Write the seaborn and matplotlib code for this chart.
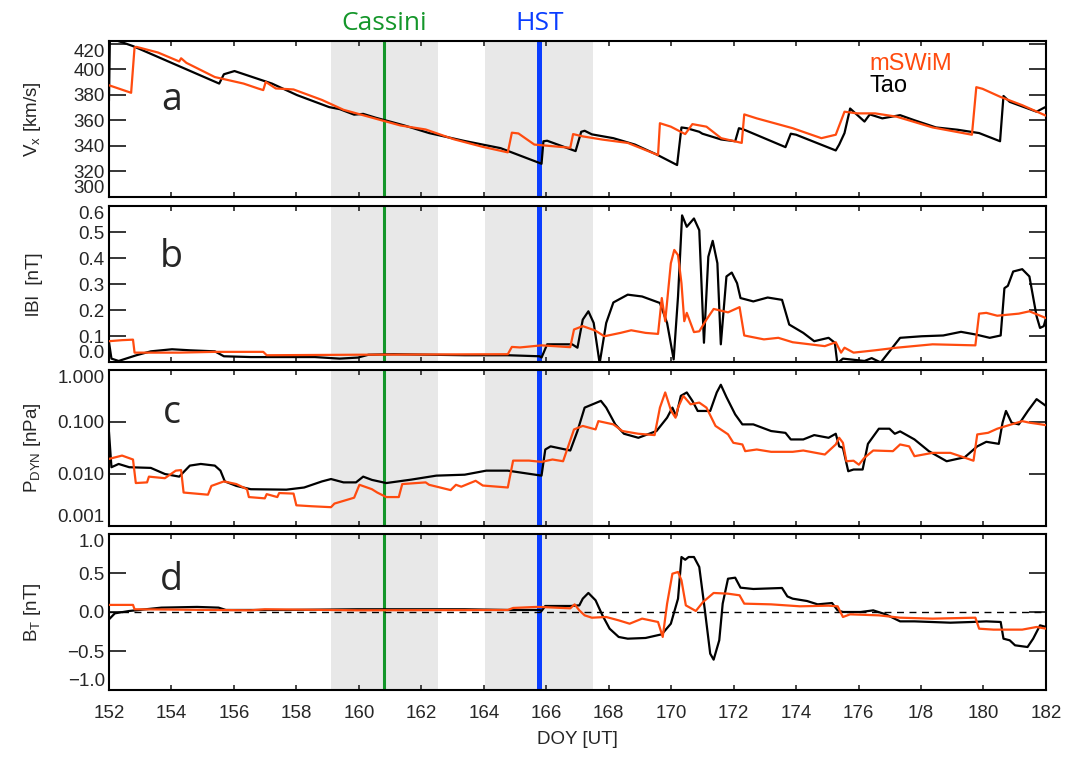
import numpy as np
import pandas as pd
import seaborn as sns
import matplotlib.pyplot as plt

# --- event markers / shaded intervals (DOY) ---
cassini_doy = 160.81
hst_doy = 165.78
shade_windows = [(159.1, 162.53), (164.04, 167.5)]

# --- panel a : Vx [km/s] ---
tao_vx_day = [152.0, 152.03, 152.42, 152.77, 155.53, 155.68, 156.02, 157.22, 158.02, 159.05, 159.39,
              159.85, 160.14, 160.54, 161.45, 162.25, 163.39, 164.54, 165.85, 165.91, 166.03, 166.94,
              167.12, 167.23, 167.46, 168.15, 168.84, 169.53, 170.19, 170.33, 170.5, 170.9, 171.0,
              171.6, 172.05, 172.17, 172.34, 173.66, 173.83, 174.0, 175.27, 175.38, 175.55, 175.73,
              176.19, 176.36, 176.76, 177.33, 177.79, 178.48, 179.17, 179.86, 180.53, 180.64, 180.84,
              181.7, 181.93, 182.0]
tao_vx = [375, 424, 421, 418, 388.7, 396, 398.5, 388.7, 379.7, 370.3, 368.7,
          364.4, 365, 362, 356, 350, 343.8, 338.2, 326, 343.6, 344, 335.9,
          351, 351.8, 349, 346, 341, 333.3, 325, 354.4, 353.8, 351, 349.5,
          345, 343.6, 353.8, 352.6, 339, 349.5, 348.7, 336.4, 341, 350, 369.2,
          359, 364.6, 361.5, 364, 360, 354.4, 352.6, 350, 343.6, 379, 374.4,
          366.7, 369.7, 370.5]
msw_vx_day = [152.0, 152.71, 152.82, 152.88, 153.57, 154.25, 154.31, 154.48, 155.39, 156.31, 156.77,
              156.94, 157.02, 157.34, 157.91, 158.82, 159.51, 160.65, 161.34, 162.14, 163.05, 163.97,
              164.77, 164.9, 165.11, 165.62, 166.77, 166.86, 167.17, 167.8, 168.61, 169.58, 169.64,
              169.99, 170.45, 170.68, 171.13, 171.6, 172.26, 172.34, 172.74, 173.89, 174.81, 175.27,
              175.55, 175.96, 176.53, 177.22, 178.37, 179.63, 179.77, 179.97, 180.55, 181.24, 182.0]
msw_vx = [387.4, 381.5, 417, 417.4, 413, 406, 408.5, 404.9, 393.8, 388.7, 384.9,
          383.6, 390, 384.9, 384.1, 375.9, 368.2, 360.5, 355.9, 352.8, 345.1, 339.2,
          334.9, 350.3, 349.7, 341, 338.5, 349.2, 347.4, 344.9, 342.3, 332.8, 357.7,
          355, 349.2, 357, 355, 346, 342.3, 364.6, 361.5, 353.8, 346, 348.7,
          366.7, 365.4, 365.4, 362.8, 354.4, 348.7, 385.9, 384.6, 378.2, 371.8, 363.6]

# --- panel b : |B| [nT] ---
tao_b_day = [152.0, 152.08, 152.31, 152.88, 153.34, 154.02, 154.59, 155.39, 155.68, 156.54, 158.59,
             159.39, 159.97, 160.31, 161.11, 163.39, 164.77, 165.79, 165.85, 166.03, 166.83, 167.0,
             167.17, 167.35, 167.52, 167.71, 167.92, 168.15, 168.61, 169.07, 169.64, 169.87, 170.08,
             170.22, 170.35, 170.5, 170.73, 170.9, 171.05, 171.19, 171.33, 171.48, 171.59, 171.77,
             171.94, 172.11, 172.22, 172.63, 173.09, 173.55, 173.78, 174.23, 174.58, 175.04, 175.24,
             175.32, 175.5, 176.19, 176.42, 176.71, 177.33, 178.02, 178.71, 179.28, 179.74, 180.2,
             180.55, 180.67, 180.78, 180.95, 181.24, 181.47, 181.7, 181.81, 181.93, 182.0]
tao_b = [0.077, 0.013, 0.004, 0.026, 0.041, 0.049, 0.045, 0.041, 0.022, 0.019, 0.019,
         0.013, 0.017, 0.028, 0.030, 0.026, 0.026, 0.022, 0.017, 0.068, 0.068, 0.055,
         0.163, 0.195, 0.15, -0.005, 0.15, 0.229, 0.259, 0.252, 0.227, 0.15, 0.01,
         0.252, 0.564, 0.52, 0.552, 0.507, 0.074, 0.405, 0.466, 0.38, 0.068, 0.329,
         0.344, 0.303, 0.246, 0.233, 0.248, 0.239, 0.144, 0.112, 0.08, 0.093, 0.074,
         -0.005, 0.013, 0.004, 0.015, -0.002, 0.093, 0.099, 0.102, 0.116, 0.106, 0.093,
         0.102, 0.284, 0.293, 0.348, 0.357, 0.329, 0.176, 0.131, 0.138, 0.169]
msw_b_day = [152.0, 152.42, 152.77, 152.82, 154.25, 155.39, 156.94, 157.05, 159.97, 164.77, 164.9,
             165.16, 165.85, 166.77, 166.89, 167.17, 167.57, 167.86, 168.38, 168.72, 169.18, 169.58,
             169.7, 169.81, 169.99, 170.1, 170.22, 170.33, 170.42, 170.5, 170.73, 170.9, 171.13,
             171.36, 171.82, 172.19, 172.34, 172.97, 173.43, 173.89, 174.92, 175.27, 175.44, 175.55,
             175.84, 176.53, 177.22, 178.37, 179.74, 179.86, 180.09, 180.44, 181.13, 181.47, 182.0]
msw_b = [0.08, 0.084, 0.086, 0.036, 0.036, 0.039, 0.039, 0.026, 0.028, 0.030, 0.058,
         0.056, 0.064, 0.057, 0.125, 0.138, 0.121, 0.099, 0.112, 0.122, 0.112, 0.108,
         0.246, 0.157, 0.38, 0.431, 0.411, 0.303, 0.157, 0.189, 0.115, 0.118, 0.163,
         0.204, 0.191, 0.211, 0.102, 0.087, 0.093, 0.076, 0.061, 0.076, 0.036, 0.055,
         0.036, 0.045, 0.055, 0.068, 0.064, 0.186, 0.189, 0.178, 0.186, 0.195, 0.169]

# --- panel c : Pdyn [nPa] ---
tao_p_day = [152.0, 152.08, 152.31, 152.65, 153.34, 153.79, 154.25, 154.59, 154.94, 155.39, 155.57,
             155.71, 156.08, 156.54, 157.68, 158.25, 158.82, 159.11, 159.51, 159.91, 160.14, 160.42,
             160.88, 161.68, 162.48, 163.39, 164.08, 164.77, 165.85, 165.97, 166.14, 166.77, 167.0,
             167.23, 167.75, 167.92, 168.21, 168.49, 168.95, 169.53, 169.87, 170.04, 170.16, 170.31,
             170.5, 170.68, 170.85, 171.25, 171.46, 171.59, 171.77, 172.05, 172.28, 172.63, 173.2,
             173.66, 173.83, 174.23, 174.58, 175.04, 175.27, 175.38, 175.5, 175.67, 175.84, 176.13,
             176.3, 176.65, 176.99, 177.16, 177.33, 177.79, 178.25, 178.82, 179.4, 179.8, 180.09,
             180.49, 180.61, 180.72, 180.9, 181.13, 181.42, 181.7, 182.0]
tao_p = [0.065, 0.0135, 0.0156, 0.0135, 0.0131, 0.010, 0.0089, 0.0145, 0.0156, 0.0145, 0.0116,
         0.0072, 0.0059, 0.0051, 0.0050, 0.0055, 0.0072, 0.008, 0.0069, 0.0069, 0.0089, 0.0077,
         0.0067, 0.0078, 0.0093, 0.0097, 0.0116, 0.0116, 0.0093, 0.0296, 0.034, 0.0283, 0.067,
         0.189, 0.255, 0.189, 0.09, 0.0594, 0.0497, 0.067, 0.121, 0.189, 0.13, 0.318,
         0.37, 0.255, 0.163, 0.163, 0.37, 0.52, 0.302, 0.14, 0.09, 0.09, 0.067,
         0.0618, 0.0462, 0.0462, 0.056, 0.0497, 0.0594, 0.034, 0.0318, 0.0113, 0.0122, 0.0122,
         0.038, 0.0743, 0.0743, 0.0594, 0.066, 0.0462, 0.0275, 0.0176, 0.021, 0.034, 0.0416,
         0.038, 0.097, 0.163, 0.097, 0.09, 0.163, 0.275, 0.204]
msw_p_day = [152.0, 152.42, 152.77, 152.86, 153.22, 153.28, 153.79, 154.14, 154.31, 154.39, 155.17,
             155.28, 155.68, 156.08, 156.42, 156.48, 156.99, 157.05, 157.39, 157.45, 157.91, 158.0,
             158.48, 159.11, 159.22, 159.85, 160.02, 160.42, 160.59, 160.88, 161.28, 161.39, 162.14,
             162.25, 162.94, 163.11, 163.28, 163.74, 163.97, 164.77, 164.94, 165.45, 165.85, 166.2,
             166.54, 166.89, 167.17, 167.58, 167.67, 168.15, 168.44, 168.95, 169.47, 169.64, 169.81,
             170.0, 170.14, 170.22, 170.39, 170.62, 170.9, 171.13, 171.42, 171.82, 171.99, 172.28,
             172.37, 172.74, 173.2, 173.89, 174.23, 174.92, 175.27, 175.38, 175.5, 175.61, 175.84,
             176.01, 176.19, 176.47, 177.1, 177.33, 177.62, 177.79, 178.37, 178.94, 179.4, 179.68,
             179.8, 180.15, 180.44, 181.24, 181.47, 181.7, 182.0]
msw_p = [0.0195, 0.0226, 0.019, 0.0067, 0.0069, 0.0089, 0.0083, 0.0116, 0.0119, 0.0044, 0.0040,
         0.0059, 0.0072, 0.0064, 0.0051, 0.0036, 0.0034, 0.0041, 0.0036, 0.0043, 0.0042, 0.0025,
         0.0024, 0.0023, 0.0027, 0.0035, 0.0062, 0.0051, 0.0044, 0.0036, 0.0036, 0.0064, 0.0069,
         0.0062, 0.0049, 0.0062, 0.0057, 0.0074, 0.0060, 0.0055, 0.0181, 0.0181, 0.0171, 0.019,
         0.0176, 0.072, 0.084, 0.072, 0.104, 0.09, 0.067, 0.0594, 0.056, 0.189, 0.37,
         0.163, 0.121, 0.189, 0.318, 0.219, 0.236, 0.189, 0.084, 0.058, 0.0398, 0.037,
         0.0275, 0.0296, 0.0267, 0.0267, 0.0283, 0.0237, 0.037, 0.0497, 0.0398, 0.0176, 0.018,
         0.0151, 0.0206, 0.0283, 0.0275, 0.037, 0.034, 0.022, 0.0255, 0.0255, 0.0206, 0.018,
         0.0577, 0.062, 0.0743, 0.104, 0.097, 0.0928, 0.087]

# --- panel d : BT [nT] ---
tao_bt_day = [152.0, 152.19, 152.65, 153.68, 154.82, 155.51, 155.74, 157.68, 159.97, 163.39, 164.77,
              165.79, 165.85, 165.97, 166.77, 167.06, 167.17, 167.35, 167.58, 167.8, 168.03, 168.32,
              168.61, 169.18, 169.7, 169.99, 170.22, 170.33, 170.45, 170.56, 170.73, 170.9, 171.08,
              171.25, 171.36, 171.54, 171.65, 171.82, 172.05, 172.22, 172.63, 173.55, 173.72, 173.89,
              174.35, 174.69, 175.15, 175.33, 175.5, 176.07, 176.47, 176.87, 177.33, 177.79, 178.94,
              179.63, 180.09, 180.55, 180.64, 180.84, 181.01, 181.41, 181.59, 181.81, 182.0]
tao_bt = [-0.095, -0.017, 0.013, 0.056, 0.065, 0.056, 0.026, 0.026, 0.035, 0.035, 0.026,
          0.026, 0.013, 0.077, 0.077, 0.085, 0.171, 0.244, 0.15, -0.043, -0.214, -0.32,
          -0.342, -0.333, -0.286, -0.15, 0.171, 0.705, 0.67, 0.705, 0.705, 0.577, 0.021,
          -0.534, -0.611, -0.363, 0.107, 0.427, 0.44, 0.312, 0.295, 0.308, 0.2, 0.171,
          0.141, 0.098, 0.115, 0.021, 0.0, 0.0, 0.021, -0.03, -0.12, -0.12, -0.137,
          -0.128, -0.12, -0.128, -0.342, -0.363, -0.427, -0.449, -0.342, -0.171, -0.192]
msw_bt_day = [152.0, 152.77, 152.82, 156.54, 156.99, 159.97, 164.77, 164.94, 165.68, 165.85, 166.77,
              166.91, 167.06, 167.23, 167.46, 167.92, 168.32, 168.67, 169.07, 169.58, 169.73, 169.87,
              170.04, 170.22, 170.33, 170.47, 170.79, 171.02, 171.36, 171.82, 172.19, 172.34, 173.2,
              174.12, 175.04, 175.33, 175.5, 175.73, 176.65, 177.33, 178.37, 179.74, 179.86, 180.32,
              181.24, 181.7, 182.0]
msw_bt = [0.091, 0.091, 0.035, 0.022, 0.035, 0.022, 0.026, 0.052, 0.065, 0.064, 0.047,
          0.098, 0.021, -0.043, -0.073, -0.064, -0.107, -0.15, -0.085, -0.128, -0.32, 0.107,
          0.491, 0.513, 0.406, 0.085, 0.013, 0.128, 0.244, 0.235, 0.214, 0.107, 0.098,
          0.073, 0.081, 0.073, -0.064, -0.03, -0.043, -0.073, -0.085, -0.073, -0.214, -0.226,
          -0.226, -0.192, -0.214]

x_ticks = list(range(152, 183, 2))
x_tick_labels = [str(t) if t != 178 else '1/8' for t in x_ticks]

ORANGE = '#ff4b0f'
GREEN = '#14962a'
BLUE = '#0a3dff'
SHADE = '#e8e8e8'

sns.set_style('ticks')
plt.rcParams['font.family'] = ['Liberation Sans', 'DejaVu Sans']
plt.rcParams['axes.linewidth'] = 1.5

fig = plt.figure(figsize=(10.83, 7.57), dpi=100)
left, width = 0.1006, 0.8652
tops = [41, 206, 370, 534]
h_px = 156
axes = []
for t in tops:
    bottom = 1 - (t + h_px) / 757
    axes.append(fig.add_axes([left, bottom, width, h_px / 757]))

panels = [
    (tao_vx_day, tao_vx, msw_vx_day, msw_vx),
    (tao_b_day, tao_b, msw_b_day, msw_b),
    (tao_p_day, tao_p, msw_p_day, msw_p),
    (tao_bt_day, tao_bt, msw_bt_day, msw_bt),
]

for ax, (td, tv, md, mv) in zip(axes, panels):
    for a, b in shade_windows:
        ax.axvspan(a, b, color=SHADE, lw=0, zorder=0)
    ax.axvline(cassini_doy, color=GREEN, lw=2.2, zorder=1)
    ax.axvline(hst_doy, color=BLUE, lw=3.6, zorder=1)
    df_t = pd.DataFrame({'doy': td, 'val': tv})
    df_m = pd.DataFrame({'doy': md, 'val': mv})
    sns.lineplot(data=df_t, x='doy', y='val', ax=ax, color='black', lw=1.6,
                 estimator=None, sort=False, zorder=3)
    sns.lineplot(data=df_m, x='doy', y='val', ax=ax, color=ORANGE, lw=1.6,
                 estimator=None, sort=False, zorder=4)
    ax.set_xlim(152, 182)
    ax.set_xticks(x_ticks)
    ax.set_xlabel('')
    ax.tick_params(axis='x', direction='in', length=3.5, width=1.2, top=True, bottom=True,
                   labelbottom=False)
    ax.tick_params(axis='y', direction='in', length=12, width=1.3, left=True, right=True,
                   labelsize=13.5, pad=3)
    for s in ax.spines.values():
        s.set_visible(True)
        s.set_linewidth(1.5)
        s.set_color('black')

# panel a
ax = axes[0]
ax.set_ylim(300, 422)
ax.set_yticks(range(300, 421, 20))
ax.set_ylabel(r'V$_\mathregular{x}$ [km/s]', fontsize=13.5)
# panel b
ax = axes[1]
ax.set_ylim(0, 0.6)
ax.set_yticks(np.arange(0, 0.61, 0.1))
ax.set_yticklabels(['0.0', '0.1', '0.2', '0.3', '0.4', '0.5', '0.6'])
ax.set_ylabel('lBl  [nT]', fontsize=13.5)
# panel c
ax = axes[2]
ax.set_yscale('log')
ax.set_ylim(0.001, 1.0)
ax.set_yticks([0.001, 0.01, 0.1, 1.0])
ax.set_yticklabels(['0.001', '0.010', '0.100', '1.000'])
ax.minorticks_off()
ax.set_ylabel(r'P$_\mathregular{DYN}$ [nPa]', fontsize=13.5)
# panel d
ax = axes[3]
ax.set_ylim(-1.0, 1.0)
ax.set_yticks([-1.0, -0.5, 0.0, 0.5, 1.0])
ax.set_yticklabels(['\u22121.0', '\u22120.5', '0.0', '0.5', '1.0'])
ax.axhline(0, color='black', lw=1.0, ls=(0, (5, 4)), zorder=2)
ax.set_ylabel(r'B$_\mathregular{T}$ [nT]', fontsize=13.5)
ax.tick_params(axis='x', labelbottom=True, labelsize=13.5, pad=11)
ax.set_xticklabels(x_tick_labels)
ax.set_xlabel('DOY [UT]', fontsize=13.5, labelpad=6)

for ax in axes:
    ax.yaxis.set_label_coords(-0.07, 0.5)
    # keep end labels inside the panel height, as in the original
    labs = ax.get_yticklabels()
    labs[0].set_verticalalignment('bottom')
    labs[-1].set_verticalalignment('top')

# panel letters
for ax, letter, yb in zip(axes, ['a', 'b', 'c', 'd'], [0.56, 0.606, 0.66, 0.64]):
    ax.text(0.067, yb, letter, transform=ax.transAxes, fontsize=27, family='Open Sans',
            ha='center', va='baseline', zorder=6)

# legend text
axes[0].text(0.812, 0.814, 'mSWiM', color=ORANGE, transform=axes[0].transAxes, fontsize=17,
             va='baseline', ha='left')
axes[0].text(0.812, 0.673, 'Tao', color='black', transform=axes[0].transAxes, fontsize=17,
             va='baseline', ha='left')

# event labels
axes[0].text(cassini_doy, 1.07, 'Cassini', color=GREEN, fontsize=19, family='Open Sans',
             ha='center', va='baseline', transform=axes[0].get_xaxis_transform())
axes[0].text(hst_doy, 1.07, 'HST', color=BLUE, fontsize=19, family='Open Sans',
             ha='center', va='baseline', transform=axes[0].get_xaxis_transform())

fig.savefig('out.png', dpi=100)
